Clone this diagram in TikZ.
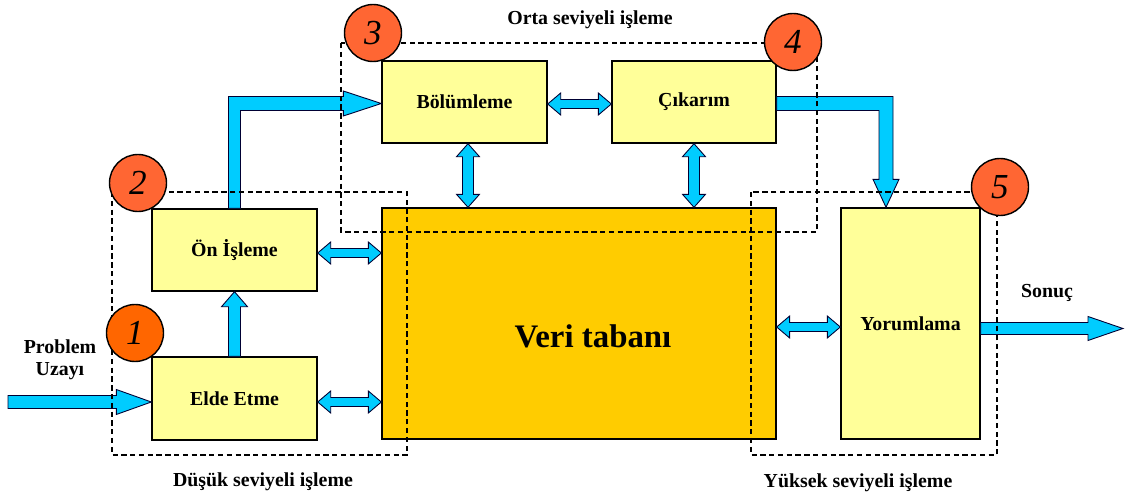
\documentclass[tikz,border=0pt]{standalone}
\usepackage{fontspec}
\setmainfont{Liberation Serif}
\usetikzlibrary{calc}
\definecolor{boxyellow}{HTML}{FFFF99}
\definecolor{dbgold}{HTML}{FFCC00}
\definecolor{arrcyan}{HTML}{00CCFF}
\definecolor{numred}{HTML}{FF6633}
\definecolor{numorange}{HTML}{FF6600}
\newcommand\dblH[2]{\draw[fat] (#1) -- ++(13,-11) -- ++(0,6.5) -- ($(#1 -| #2)+(-13,-4.5)$) -- ++(0,-6.5) -- (#1 -| #2) -- ++(-13,11) -- ++(0,-6.5) -- ($(#1)+(13,4.5)$) -- ++(0,6.5) -- cycle;}
\newcommand\dblV[2]{\draw[fat] (#1) -- ++(11.5,13) -- ++(-6,0) -- ($(#1 |- #2)+(5.5,-13)$) -- ++(6,0) -- (#1 |- #2) -- ++(-11.5,-13) -- ++(6,0) -- ($(#1)+(-5.5,13)$) -- ++(-6,0) -- cycle;}
\newcommand\sglH[5]{\draw[fat] ($(#1)+(0,-#3)$) -- ($(#1 -| #2)+(-#5,-#3)$) -- ($(#1 -| #2)+(-#5,-#4)$) -- (#1 -| #2) -- ($(#1 -| #2)+(-#5,#4)$) -- ($(#1 -| #2)+(-#5,#3)$) -- ($(#1)+(0,#3)$) -- cycle;}
\begin{document}
\begin{tikzpicture}[x=0.02cm,y=-0.02cm,
  ybox/.style={draw=black, line width=0.8pt, fill=boxyellow, inner sep=0pt, font=\fontsize{11.3}{13}\selectfont\bfseries},
  dbox/.style={draw=black, line width=0.8pt, fill=dbgold, inner sep=0pt},
  fat/.style={fill=arrcyan, draw=black!80!blue, line width=0.5pt, line join=miter},
  dashbox/.style={draw=black, line width=0.7pt, dash pattern=on 3pt off 2pt},
  numc/.style={circle, draw=black, line width=0.8pt, fill=numred, minimum size=1.14cm, inner sep=0pt, font=\fontsize{20}{20}\selectfont\itshape},
  lbl/.style={font=\fontsize{11.3}{12.5}\selectfont\bfseries, inner sep=0pt}]
\useasboundingbox (0,0) rectangle (1125,496);
% boxes
\node[ybox, minimum width=3.3cm, minimum height=1.66cm] (elde) at (234.5,398.5) {Elde Etme};
\node[ybox, minimum width=3.3cm, minimum height=1.64cm] (on) at (234.5,250) {Ön İşleme};
\node[ybox, minimum width=3.3cm, minimum height=1.64cm] (bol) at (464.5,102) {Bölümleme};
\node[ybox, minimum width=3.28cm, minimum height=1.64cm] (cik) at (694,102) {Çıkarım};
\node[dbox, minimum width=7.88cm, minimum height=4.62cm] (veri) at (579,323.5) {};
\node[font=\fontsize{18.7}{20}\selectfont\bfseries, inner sep=0pt] (vlab) at (593,336) {Veri tabanı};
\node[ybox, minimum width=2.78cm, minimum height=4.62cm] (yor) at (910.5,323.5) {Yorumlama};
% coordinates for arrows
\coordinate (pst) at (8,402);
\coordinate (pend) at ($(elde.west)+(0,3.5)$);
\coordinate (a1) at ($(on.east)+(0,3)$);
\coordinate (a2) at ($(elde.east)+(0,3.5)$);
\coordinate (a3) at ($(veri.east)+(0,3.5)$);
\coordinate (a4) at ($(bol.east)+(0,2)$);
\coordinate (a5) at ($(bol.south)+(3.5,0)$);
\coordinate (a6) at (cik.south);
\coordinate (s0) at ($(yor.east)+(0,5)$);
\coordinate (sonend) at (1123,329);
\coordinate (k1) at ($(on.north |- bol.west)+(0,1.5)$);
\coordinate (bw) at ($(bol.west)+(0,1.5)$);
\coordinate (yt) at ($(yor.north)+(-24.5,0)$);
\coordinate (ce) at ($(cik.east)+(0,1.5)$);
\coordinate (k2) at (yt |- ce);
% arrows
\draw[fat] ($(pst)+(0,-6.5)$) -- ($(pend)+(-35,-6.5)$) -- ($(pend)+(-35,-12.5)$) -- (pend) -- ($(pend)+(-35,12.5)$) -- ($(pend)+(-35,6.5)$) -- ($(pst)+(0,6.5)$) -- cycle;
\draw[fat] ($(elde.north)+(-6,0)$) -- ($(elde.north |- on.south)+(-6,15)$) -- ++(-7,0) -- (elde.north |- on.south) -- ($(elde.north |- on.south)+(13,15)$) -- ++(-7,0) -- ($(elde.north)+(6,0)$) -- cycle;
\draw[fat] ($(on.north)+(-6,0)$) -- ($(k1)+(-6,-7)$) -- ($(bw)+(-38,-7)$) -- ($(bw)+(-38,-12.5)$) -- (bw) -- ($(bw)+(-38,12.5)$) -- ($(bw)+(-38,7)$) -- ($(k1)+(6,7)$) -- ($(on.north)+(6,0)$) -- cycle;
\draw[fat] ($(ce)+(0,-7)$) -- ($(k2)+(7,-7)$) -- ($(yt)+(7,-28)$) -- ($(yt)+(13,-28)$) -- (yt) -- ($(yt)+(-13,-28)$) -- ($(yt)+(-7,-28)$) -- ($(k2)+(-7,7)$) -- ($(ce)+(0,7)$) -- cycle;
\sglH{s0}{sonend}{6}{12}{35}
\dblH{a1}{veri.west}
\dblH{a2}{veri.west}
\dblH{a3}{yor.west}
\dblH{a4}{cik.west}
\dblV{a5}{veri.north}
\dblV{a6}{veri.north}
% dashed groups
\draw[dashbox] (112,192) rectangle (407,455);
\draw[dashbox] (341,43) rectangle (817,232);
\draw[dashbox] (751,192) rectangle (997,455);
% numbers
\node[numc, fill=numorange] (c1) at (135,333) {1};
\node[numc] (c2) at (138,183) {2};
\node[numc] (c3) at (373,33) {3};
\node[numc] (c4) at (793,42) {4};
\node[numc] (c5) at (1000,187) {5};
% labels
\node[lbl, align=center] (prob) at (60,360) {Problem\\Uzayı};
\node[lbl] (orta) at (590,20) {Orta seviyeli işleme};
\node[lbl] (dusuk) at (263,482) {Düşük seviyeli işleme};
\node[lbl] (yuksek) at (858,483) {Yüksek seviyeli işleme};
\node[lbl] (sonuc) at (1047,293) {Sonuç};
\end{tikzpicture}
\end{document}
